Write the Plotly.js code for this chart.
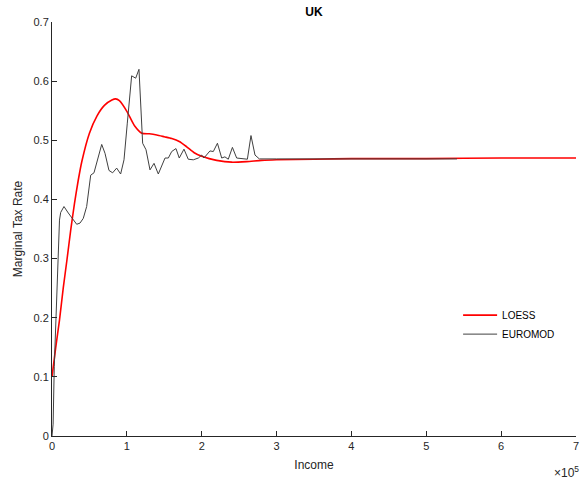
<!DOCTYPE html>
<html>
<head>
<meta charset="utf-8">
<script src="https://cdn.plot.ly/plotly-3.0.1.min.js"></script>
<style>
  html, body { margin: 0; padding: 0; background: #fff; }
  #chart { width: 587px; height: 482px; }
</style>
</head>
<body>
<div id="chart"></div>
<script>
// LOESS fit (red)
const loessX = [0, 5000, 10000, 15000, 20000, 25000, 30000, 35000, 40000, 50000, 60000, 70000, 80000, 85000,
  90000, 100000, 110000, 120000, 130000, 140000, 150000, 160000, 170000, 180000, 190000, 200000, 210000,
  220000, 240000, 260000, 280000, 300000, 350000, 400000, 500000, 600000, 700000];
const loessY = [0.100, 0.150, 0.196, 0.250, 0.298, 0.348, 0.393, 0.432, 0.465, 0.512, 0.541, 0.559, 0.568, 0.570,
  0.567, 0.549, 0.525, 0.512, 0.511, 0.509, 0.506, 0.503, 0.498, 0.489, 0.479, 0.473, 0.469,
  0.466, 0.463, 0.464, 0.466, 0.467, 0.468, 0.469, 0.469, 0.470, 0.470];

// EUROMOD marginal rates (dark grey)
const euroX = [0, 1500, 3000, 6300, 10000, 11600, 16000, 21800, 28500, 33000, 37400, 41800, 46300, 51700,
  56100, 60500, 66400, 70800, 76100, 81000, 86400, 91700, 96200, 100600, 106400, 111800, 116200, 121100,
  125600, 130900, 136300, 142000, 151000, 155400, 159900, 165600, 170000, 176300, 182000, 188800, 195500,
  200000, 203000, 211000, 215500, 221000, 226700, 231000, 235500, 241000, 246700, 261000, 265800, 271200,
  277000, 300000, 400000, 541000];
const euroY = [0.000, 0.020, 0.117, 0.247, 0.365, 0.378, 0.388, 0.377, 0.365, 0.358, 0.360, 0.368, 0.388, 0.441,
  0.445, 0.467, 0.493, 0.478, 0.449, 0.445, 0.453, 0.443, 0.467, 0.529, 0.609, 0.605, 0.620, 0.495,
  0.484, 0.450, 0.461, 0.443, 0.470, 0.470, 0.481, 0.486, 0.470, 0.485, 0.468, 0.467, 0.470,
  0.475, 0.470, 0.482, 0.481, 0.495, 0.470, 0.472, 0.468, 0.488, 0.470, 0.468, 0.508, 0.475,
  0.4685, 0.4685, 0.4685, 0.4685];

const xTicks = [0, 100000, 200000, 300000, 400000, 500000, 600000, 700000];
const xTickText = ['0', '1', '2', '3', '4', '5', '6', '7'];

const INK = '#262626';
const FONT = 'Liberation Sans, Arial, sans-serif';

const traces = [
  { x: loessX, y: loessY, mode: 'lines', name: 'LOESS', line: { color: '#ff0000', width: 1.6, shape: 'spline', smoothing: 0.6 } },
  { x: euroX, y: euroY, mode: 'lines', name: 'EUROMOD', line: { color: '#404040', width: 1 } },
];

Plotly.newPlot('chart', traces, {
  width: 587, height: 482,
  margin: { l: 52, r: 11, t: 22, b: 46 },
  paper_bgcolor: '#fff', plot_bgcolor: '#fff',
  font: { family: FONT, size: 11, color: INK },
  title: { text: '<b>UK</b>', font: { size: 12, color: '#000' }, x: 0.535, xanchor: 'center', y: 0.985, yanchor: 'top' },
  showlegend: true,
  legend: {
    x: 0.775, y: 0.327, xanchor: 'left', yanchor: 'top',
    bgcolor: 'rgba(0,0,0,0)', borderwidth: 0, font: { size: 10, color: '#000' },
    tracegroupgap: 0, itemwidth: 34,
  },
  xaxis: {
    range: [0, 700000], tickvals: xTicks, ticktext: xTickText,
    ticks: 'inside', ticklen: 5, tickcolor: INK, showline: true, linecolor: INK, linewidth: 1,
    showgrid: false, zeroline: false, mirror: false,
    title: { text: 'Income', font: { size: 12, color: INK }, standoff: 9 },
  },
  yaxis: {
    range: [0, 0.7], dtick: 0.1,
    ticks: 'inside', ticklen: 5, tickcolor: INK, showline: true, linecolor: INK, linewidth: 1,
    showgrid: false, zeroline: false, mirror: false,
    title: { text: 'Marginal Tax Rate', font: { size: 12, color: INK }, standoff: 8 },
  },
  annotations: [{
    xref: 'paper', yref: 'paper', x: 1.01, y: -0.063, xanchor: 'right', yanchor: 'top',
    text: '×10<sup>5</sup>', showarrow: false, font: { size: 12, color: INK },
  }],
}, { staticPlot: true, displayModeBar: false });
</script>
</body>
</html>
